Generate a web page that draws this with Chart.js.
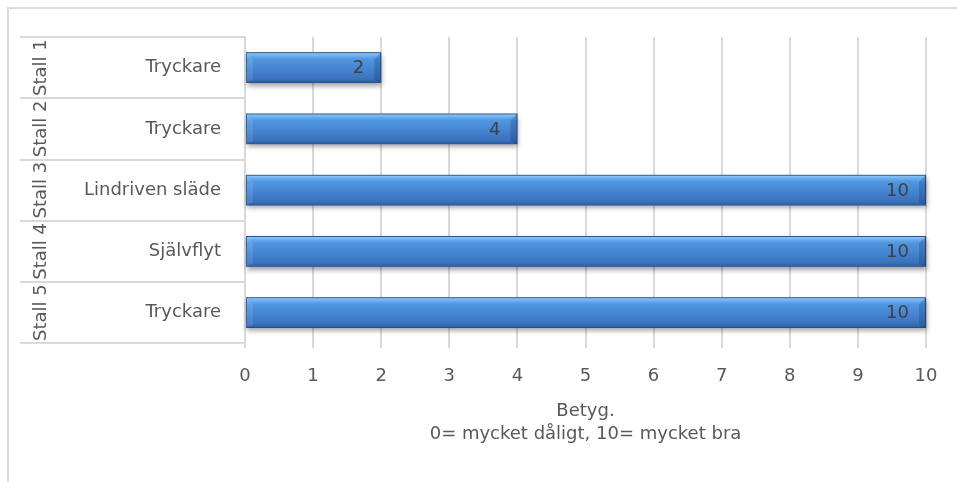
<!DOCTYPE html>
<html>
<head>
<meta charset="utf-8">
<script src="https://cdn.jsdelivr.net/npm/chart.js@4/dist/chart.umd.min.js"></script>
<style>
  html, body { margin: 0; padding: 0; background: #fff; overflow: hidden; }
  #wrap { position: relative; width: 957px; height: 482px; overflow: hidden; }
  #frame { position: absolute; left: 7px; top: 7px; width: 948px; height: 473px;
           border-left: 2px solid #dadada; border-top: 2px solid #dadada; }
  canvas { position: absolute; left: 0; top: 0; }
</style>
</head>
<body>
<div id="wrap">
  <div id="frame"></div>
  <canvas id="chart" width="957" height="482"></canvas>
</div>
<script>
const stalls = ['Stall 1', 'Stall 2', 'Stall 3', 'Stall 4', 'Stall 5'];
const methods = ['Tryckare', 'Tryckare', 'Lindriven släde', 'Självflyt', 'Tryckare'];
const grades = [2, 4, 10, 10, 10];
const xMin = 0;
const xMax = 10;
const xStep = 1;
const axisTitle = ['Betyg.', '0= mycket dåligt, 10= mycket bra'];

const FONT = 'DejaVu Sans';
const FS = 18;
const TEXT = '#595959';
const LINE = '#d9d9d9';

function barFill(c) {
  const chart = c.chart;
  const ys = chart.scales.y;
  if (!ys || c.dataIndex === undefined) return '#4a8ad6';
  const mid = ys.getPixelForValue(c.dataIndex);
  const half = ys.height / methods.length / 4;
  if (!isFinite(mid) || !isFinite(half) || half <= 0) return '#4a8ad6';
  const g = chart.ctx.createLinearGradient(0, mid - half, 0, mid + half);
  g.addColorStop(0, '#9bcdf8');
  g.addColorStop(0.1, '#72b2f1');
  g.addColorStop(0.22, '#5196e0');
  g.addColorStop(0.6, '#4381ce');
  g.addColorStop(0.88, '#3a71bb');
  g.addColorStop(1, '#2b5893');
  return g;
}

// soft shadow under each bar
const barShadow = {
  id: 'barShadow',
  beforeDatasetsDraw(chart) {
    const ctx = chart.ctx;
    chart.getDatasetMeta(0).data.forEach((bar) => {
      const p = bar.getProps(['x', 'y', 'base', 'height'], true);
      ctx.save();
      ctx.shadowColor = 'rgba(0,0,0,0.38)';
      ctx.shadowBlur = 5;
      ctx.shadowOffsetX = 1;
      ctx.shadowOffsetY = 3;
      ctx.fillStyle = '#3a70b8';
      ctx.fillRect(p.base, p.y - p.height / 2, p.x - p.base, p.height);
      ctx.restore();
    });
  }
};

// bevel edges + value labels
const barBevel = {
  id: 'barBevel',
  afterDatasetsDraw(chart) {
    const ctx = chart.ctx;
    chart.getDatasetMeta(0).data.forEach((bar, i) => {
      const { x, y, base, height } = bar.getProps(['x', 'y', 'base', 'height'], true);
      const top = y - height / 2, bot = y + height / 2, b = 7;
      ctx.save();
      // left bevel, lighter
      ctx.beginPath();
      ctx.moveTo(base, top); ctx.lineTo(base + b, top + b);
      ctx.lineTo(base + b, bot - 3); ctx.lineTo(base, bot);
      ctx.closePath();
      ctx.fillStyle = 'rgba(255,255,255,0.10)';
      ctx.fill();
      // right bevel, darker
      ctx.beginPath();
      ctx.moveTo(x, top); ctx.lineTo(x - b, top + b);
      ctx.lineTo(x - b, bot - 3); ctx.lineTo(x, bot);
      ctx.closePath();
      ctx.fillStyle = 'rgba(10,40,90,0.22)';
      ctx.fill();
      // value label
      ctx.fillStyle = '#404040';
      ctx.font = FS + 'px "' + FONT + '"';
      ctx.textAlign = 'right';
      ctx.textBaseline = 'middle';
      ctx.fillText(String(grades[i]), x - 17, y + 1);
      ctx.restore();
    });
  }
};

// outer category level: dividers and rotated stall labels
const stallAxis = {
  id: 'stallAxis',
  afterDraw(chart) {
    const ctx = chart.ctx;
    const ys = chart.scales.y;
    const left = 20, right = chart.chartArea.left;
    ctx.save();
    ctx.strokeStyle = LINE;
    ctx.lineWidth = 2;
    for (let i = 0; i <= stalls.length; i++) {
      const yy = Math.round(ys.getPixelForValue(i - 0.5));
      ctx.beginPath();
      ctx.moveTo(left, yy);
      ctx.lineTo(right, yy);
      ctx.stroke();
    }
    ctx.fillStyle = TEXT;
    ctx.font = FS + 'px "' + FONT + '"';
    ctx.textAlign = 'center';
    ctx.textBaseline = 'middle';
    stalls.forEach((s, i) => {
      ctx.save();
      ctx.translate(41, ys.getPixelForValue(i));
      ctx.rotate(-Math.PI / 2);
      ctx.fillText(s, 0, 0);
      ctx.restore();
    });
    ctx.restore();
  }
};

new Chart(document.getElementById('chart'), {
  type: 'bar',
  data: {
    labels: methods,
    datasets: [{
      data: grades,
      backgroundColor: barFill,
      borderColor: 'rgba(35,75,135,0.85)',
      borderWidth: 1,
      borderSkipped: false,
      barPercentage: 0.5,
      categoryPercentage: 1
    }]
  },
  options: {
    indexAxis: 'y',
    responsive: false,
    animation: false,
    layout: { padding: { left: 20, top: 37, right: 31, bottom: 36 } },
    plugins: { legend: { display: false }, tooltip: { enabled: false } },
    scales: {
      x: {
        min: xMin,
        max: xMax,
        ticks: { stepSize: xStep, color: TEXT, padding: 17, font: { family: FONT, size: FS, lineHeight: 1.2 } },
        grid: { color: LINE, lineWidth: 2, tickLength: 5, drawTicks: true },
        border: { display: false },
        title: {
          display: true,
          text: axisTitle,
          color: TEXT,
          font: { family: FONT, size: FS, lineHeight: 1.28 },
          padding: { top: -4, bottom: 0 }
        }
      },
      y: {
        offset: true,
        ticks: { color: TEXT, padding: 24, font: { family: FONT, size: FS } },
        grid: { display: false, drawTicks: false },
        border: { display: true, color: LINE, width: 2 },
        afterFit(scale) { scale.width = 225; }
      }
    }
  },
  plugins: [barShadow, barBevel, stallAxis]
});
</script>
</body>
</html>
